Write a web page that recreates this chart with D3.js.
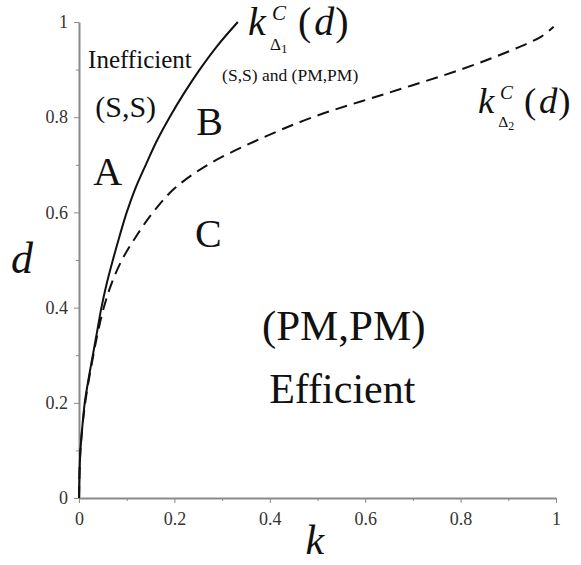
<!DOCTYPE html>
<html>
<head>
<meta charset="utf-8">
<script src="https://cdn.jsdelivr.net/npm/d3@7"></script>
<style>
  html, body { margin: 0; padding: 0; background: #fff; }
  #main { width: 581px; height: 565px; }
  text { font-family: "Liberation Serif", "Times New Roman", serif; }
</style>
</head>
<body>
<div id="main"></div>
<script>
// tick values for both axes
const ticksMajor = [0, 0.2, 0.4, 0.6, 0.8, 1];
const ticksMinor = [0.1, 0.3, 0.5, 0.7, 0.9];

// solid boundary k_Δ1(d)
const dSolid = [0, 0.05, 0.1, 0.15, 0.2, 0.25, 0.3, 0.35, 0.4, 0.45, 0.5, 0.55, 0.6, 0.65, 0.7, 0.75, 0.8, 0.85, 0.9, 0.95, 1.0];
const kSolid = [0, 0.001, 0.003, 0.007, 0.012, 0.02, 0.029, 0.038, 0.047, 0.058, 0.071, 0.085, 0.1, 0.118, 0.14, 0.163, 0.19, 0.22, 0.253, 0.29, 0.333];

// dashed boundary k_Δ2(d)
const dDashed = [0, 0.1, 0.2, 0.3, 0.35, 0.4, 0.45, 0.5, 0.55, 0.6, 0.65, 0.7, 0.75, 0.8, 0.85, 0.9, 0.94, 0.97, 0.99];
const kDashed = [0, 0.003, 0.013, 0.03, 0.04, 0.052, 0.068, 0.09, 0.12, 0.155, 0.2, 0.27, 0.37, 0.49, 0.645, 0.8, 0.905, 0.97, 0.995];

function createChart() {
    d3.select("#main svg").remove();

    const width = 581, height = 565;
    const svg = d3.select("#main").append("svg")
        .attr("width", width)
        .attr("height", height);

    const x = d3.scaleLinear().domain([0, 1]).range([79, 556]);
    const y = d3.scaleLinear().domain([0, 1]).range([498, 22]);

    const axisColor = "#8a8a8a";
    const labelColor = "#333";
    const serif = "'Liberation Serif', 'Times New Roman', serif";

    // minor ticks first so the axis line sits on top
    svg.append("g")
        .attr("transform", `translate(0,${y(0)})`)
        .call(d3.axisBottom(x).tickValues(ticksMinor).tickSize(3).tickFormat(""))
        .call(g => g.select(".domain").remove())
        .call(g => g.selectAll("line").attr("stroke", axisColor).attr("stroke-width", 1));

    svg.append("g")
        .attr("transform", `translate(${x(0)},0)`)
        .call(d3.axisLeft(y).tickValues(ticksMinor).tickSize(3).tickFormat(""))
        .call(g => g.select(".domain").remove())
        .call(g => g.selectAll("line").attr("stroke", axisColor).attr("stroke-width", 1));

    const xAxis = svg.append("g")
        .attr("transform", `translate(0,${y(0)})`)
        .call(d3.axisBottom(x).tickValues(ticksMajor).tickSize(5).tickSizeOuter(0).tickPadding(9).tickFormat(d3.format("")));

    const yAxis = svg.append("g")
        .attr("transform", `translate(${x(0)},0)`)
        .call(d3.axisLeft(y).tickValues(ticksMajor).tickSize(5).tickSizeOuter(0).tickPadding(6).tickFormat(d3.format("")));

    [xAxis, yAxis].forEach(g => {
        g.attr("font-family", serif).attr("font-size", 18);
        g.select(".domain").attr("stroke", axisColor).attr("stroke-width", 2);
        g.selectAll(".tick line").attr("stroke", axisColor).attr("stroke-width", 1);
        g.selectAll(".tick text")
            .attr("fill", labelColor)
            .attr("font-family", serif)
            .style("font-family", serif)
            .style("font-size", "18px");
    });

    // boundary curves
    const line = d3.line()
        .x(p => x(p[0]))
        .y(p => y(p[1]))
        .curve(d3.curveCatmullRom.alpha(0.5));

    svg.append("path")
        .datum(dDashed.map((d, i) => [kDashed[i], d]))
        .attr("d", line)
        .attr("fill", "none")
        .attr("stroke", "#111")
        .attr("stroke-width", 2)
        .attr("stroke-dasharray", "12,7");

    svg.append("path")
        .datum(dSolid.map((d, i) => [kSolid[i], d]))
        .attr("d", line)
        .attr("fill", "none")
        .attr("stroke", "#111")
        .attr("stroke-width", 2);

    // region annotations
    function note(txt, k, d, size, anchor) {
        svg.append("text")
            .attr("x", x(k))
            .attr("y", y(d))
            .attr("text-anchor", anchor || "start")
            .style("font-size", size + "px")
            .attr("fill", "#111")
            .text(txt);
    }
    note("Inefficient", 0.019, 0.903, 25);
    note("(S,S)", 0.034, 0.80, 30);
    note("A", 0.06, 0.658, 40, "middle");
    note("B", 0.274, 0.763, 40, "middle");
    note("C", 0.271, 0.527, 40, "middle");
    note("(S,S) and (PM,PM)", 0.30, 0.876, 17.5);
    note("(PM,PM)", 0.555, 0.332, 43, "middle");
    note("Efficient", 0.552, 0.2, 42, "middle");

    // curve labels k^C_Δi(d)
    function curveLabel(x0, y0, s, idx) {
        const g = svg.append("g").attr("transform", `translate(${x0},${y0}) scale(${s})`).attr("fill", "#111");
        g.append("text").attr("x", 0).attr("y", 0)
            .style("font-size", "40px").style("font-style", "italic").text("k");
        g.append("text").attr("x", 24).attr("y", -15)
            .style("font-size", "21px").style("font-style", "italic").text("C");
        const sub = g.append("text").attr("x", 22).attr("y", 15).style("font-size", "17px");
        sub.append("tspan").text("Δ");
        sub.append("tspan").attr("dy", 3).style("font-size", "13px").text(idx);
        const fn = g.append("text").attr("x", 50).attr("y", 0).style("font-size", "40px");
        fn.append("tspan").text("(");
        fn.append("tspan").attr("dx", 3).style("font-style", "italic").text("d");
        fn.append("tspan").attr("dx", 1).text(")");
    }
    curveLabel(248, 35, 1, "1");
    curveLabel(478, 113, 0.92, "2");

    // axis titles
    svg.append("text")
        .attr("x", x(0.475))
        .attr("y", 554)
        .style("font-size", "42px")
        .style("font-style", "italic")
        .attr("fill", "#111")
        .text("k");

    svg.append("text")
        .attr("x", 11)
        .attr("y", 273)
        .style("font-size", "44px")
        .style("font-style", "italic")
        .attr("fill", "#111")
        .text("d");
}

document.addEventListener("DOMContentLoaded", function() {
    createChart();
});
</script>
</body>
</html>
